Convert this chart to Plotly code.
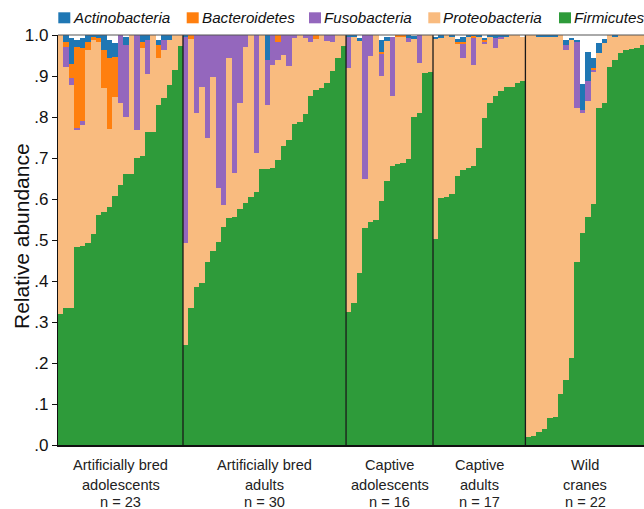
import plotly.graph_objects as go

# ---------------- data ----------------
group_line1 = ["Artificially bred", "Artificially bred", "Captive", "Captive", "Wild"]
group_line2 = ["adolescents", "adults", "adolescents", "adults", "cranes"]
group_sizes = [23, 30, 16, 17, 22]

phyla_bottom_to_top = ["Firmicutes", "Proteobacteria", "Fusobacteria", "Bacteroidetes", "Actinobacteria"]
legend_order = ["Actinobacteria", "Bacteroidetes", "Fusobacteria", "Proteobacteria", "Firmicutes"]

firmicutes = (
    [0.320, 0.335, 0.335, 0.482, 0.485, 0.492, 0.514, 0.560, 0.568, 0.581, 0.608, 0.633,
     0.660, 0.662, 0.701, 0.705, 0.763, 0.764, 0.829, 0.847, 0.878, 0.915, 0.974]
    + [0.244, 0.335, 0.386, 0.394, 0.447, 0.473, 0.496, 0.532, 0.553, 0.557, 0.576, 0.591,
       0.604, 0.618, 0.672, 0.674, 0.675, 0.695, 0.729, 0.744, 0.783, 0.789, 0.807, 0.852,
       0.866, 0.870, 0.882, 0.912, 0.943, 0.974]
    + [0.325, 0.347, 0.419, 0.530, 0.545, 0.549, 0.596, 0.644, 0.681, 0.685, 0.687, 0.698,
       0.801, 0.809, 0.908, 0.910]
    + [0.502, 0.602, 0.604, 0.611, 0.657, 0.671, 0.675, 0.680, 0.724, 0.797, 0.835, 0.851,
       0.863, 0.872, 0.874, 0.882, 0.888]
    + [0.020, 0.023, 0.031, 0.039, 0.067, 0.069, 0.124, 0.159, 0.211, 0.446, 0.516, 0.557,
       0.588, 0.823, 0.833, 0.921, 0.939, 0.955, 0.963, 0.966, 0.968, 0.976]
)
proteobacteria = (
    [0.680, 0.588, 0.543, 0.288, 0.295, 0.471, 0.474, 0.424, 0.302, 0.189, 0.242, 0.200,
     0.141, 0.338, 0.067, 0.263, 0.143, 0.236, 0.114, 0.116, 0.110, 0.085, 0.026]
    + [0.248, 0.655, 0.423, 0.478, 0.301, 0.425, 0.130, 0.053, 0.390, 0.106, 0.257, 0.380,
       0.396, 0.093, 0.328, 0.155, 0.253, 0.244, 0.222, 0.181, 0.209, 0.211, 0.185, 0.132,
       0.124, 0.130, 0.103, 0.070, 0.057, 0.026]
    + [0.594, 0.649, 0.566, 0.120, 0.405, 0.451, 0.304, 0.341, 0.170, 0.311, 0.310, 0.284,
       0.189, 0.122, 0.092, 0.090]
    + [0.488, 0.390, 0.396, 0.386, 0.320, 0.272, 0.321, 0.248, 0.272, 0.183, 0.161, 0.117,
       0.129, 0.124, 0.126, 0.118, 0.108]
    + [0.980, 0.977, 0.966, 0.958, 0.930, 0.927, 0.876, 0.804, 0.777, 0.375, 0.293, 0.282,
       0.321, 0.132, 0.147, 0.079, 0.057, 0.045, 0.037, 0.034, 0.032, 0.024]
)
fusobacteria = (
    [0, 0.048, 0.016, 0.003, 0.010, 0, 0, 0, 0, 0, 0, 0.167,
     0.175, 0, 0.232, 0, 0.082, 0, 0, 0.025, 0, 0, 0]
    + [0.502, 0, 0.190, 0.128, 0.252, 0.102, 0.374, 0.415, 0.057, 0.337, 0.167, 0.029,
       0, 0.289, 0, 0.110, 0.072, 0.043, 0.049, 0.075, 0.008, 0, 0.008, 0.016,
       0, 0, 0.015, 0.018, 0, 0]
    + [0.077, 0, 0, 0.350, 0.050, 0, 0.053, 0, 0.145, 0, 0, 0.010,
       0, 0.069, 0, 0]
    + [0, 0, 0, 0, 0, 0.037, 0, 0.065, 0, 0.004, 0, 0.025,
       0.004, 0, 0, 0, 0]
    + [0, 0, 0, 0, 0, 0, 0, 0.013, 0, 0.163, 0.008, 0.049,
       0.007, 0, 0, 0, 0, 0, 0, 0, 0, 0]
)
bacteroidetes = (
    [0, 0.013, 0.035, 0.198, 0.178, 0.021, 0.008, 0.008, 0.093, 0.173, 0.097, 0,
     0, 0, 0, 0.016, 0, 0, 0.033, 0, 0, 0, 0]
    + [0, 0.010, 0, 0, 0, 0, 0, 0, 0, 0, 0, 0,
       0, 0, 0, 0, 0, 0.018, 0, 0, 0, 0, 0, 0,
       0.010, 0, 0, 0, 0, 0]
    + [0, 0, 0, 0, 0, 0, 0.006, 0, 0, 0.004, 0.003, 0,
       0, 0, 0, 0]
    + [0, 0, 0, 0, 0.005, 0.004, 0, 0.005, 0, 0.004, 0, 0,
       0, 0, 0, 0, 0]
    + [0, 0, 0, 0, 0, 0, 0, 0, 0, 0, 0, 0,
       0.003, 0, 0, 0, 0, 0, 0, 0, 0, 0]
)
actinobacteria = (
    [0, 0.016, 0.063, 0.017, 0.024, 0.016, 0.004, 0.008, 0.037, 0.045, 0.033, 0,
     0.020, 0, 0, 0.016, 0.012, 0, 0.012, 0.012, 0.012, 0, 0]
    + [0.006, 0, 0, 0, 0, 0, 0, 0, 0, 0, 0, 0,
       0, 0, 0, 0.061, 0, 0, 0, 0, 0, 0, 0, 0,
       0, 0, 0, 0, 0, 0]
    + [0.004, 0.004, 0.007, 0, 0, 0, 0.029, 0.011, 0, 0, 0, 0.008,
       0.008, 0, 0, 0]
    + [0.005, 0.008, 0, 0.003, 0.008, 0.012, 0.004, 0.002, 0.004, 0.005, 0.004, 0.007,
       0.004, 0.004, 0, 0, 0]
    + [0, 0, 0.003, 0.003, 0.003, 0.004, 0, 0.012, 0.005, 0.004, 0.063, 0.071,
       0.024, 0.025, 0.010, 0, 0.004, 0, 0, 0, 0, 0]
)

y_tick_vals = [0, 0.1, 0.2, 0.3, 0.4, 0.5, 0.6, 0.7, 0.8, 0.9, 1.0]
y_tick_text = [".0", ".1", ".2", ".3", ".4", ".5", ".6", ".7", ".8", ".9", "1.0"]

# ---------------- style ----------------
colors = {
    "Actinobacteria": "#1f77b4",
    "Bacteroidetes": "#ff7f0e",
    "Fusobacteria": "#9467bd",
    "Proteobacteria": "#f9bb7f",
    "Firmicutes": "#2e9b3a",
}
values = {
    "Firmicutes": firmicutes,
    "Proteobacteria": proteobacteria,
    "Fusobacteria": fusobacteria,
    "Bacteroidetes": bacteroidetes,
    "Actinobacteria": actinobacteria,
}

FONT = "Liberation Sans, Arial, sans-serif"
W_FIG, H_FIG = 644, 509
L, R, T, B = 58, 0, 35, 64
PW, PH = W_FIG - L - R, H_FIG - T - B

def px_x(px):
    return (px - L) / PW

def px_y(py):
    return (H_FIG - B - py) / PH

n_total = sum(group_sizes)
x = list(range(n_total))

fig = go.Figure()
for name in phyla_bottom_to_top:
    fig.add_bar(x=x, y=values[name], name=name, marker_color=colors[name],
                marker_line_width=0, showlegend=False, hoverinfo="skip")

shapes = []
cum = 0
for s in group_sizes[:-1]:
    cum += s
    shapes.append(dict(type="line", xref="x", yref="paper", x0=cum - 0.5, x1=cum - 0.5,
                       y0=0, y1=1, line=dict(color="#1a1a1a", width=1.3)))
shapes.append(dict(type="line", xref="paper", yref="paper", x0=0, x1=1, y0=1, y1=1,
                   line=dict(color="#555555", width=1)))

annotations = []
start = 0
for l1, l2, s in zip(group_line1, group_line2, group_sizes):
    center = start + (s - 1) / 2
    for txt, py in ((l1, 465), (l2, 485), (f"n = {s}", 502)):
        annotations.append(dict(x=center, xref="x", y=px_y(py), yref="paper",
                                text=txt, showarrow=False, borderpad=0,
                                xanchor="center", yanchor="middle",
                                font=dict(size=14.6, color="#222222", family=FONT)))
    start += s

annotations.append(dict(x=px_x(21), xref="paper", y=px_y(236), yref="paper",
                        text="Relative abundance", textangle=-90, showarrow=False,
                        xanchor="center", yanchor="middle",
                        font=dict(size=21, color="#111111", family=FONT)))

legend_sq_x = [58.3, 186.7, 309, 428.3, 559]
for name, sx in zip(legend_order, legend_sq_x):
    shapes.append(dict(type="rect", xref="paper", yref="paper",
                       x0=px_x(sx), x1=px_x(sx + 12), y0=px_y(23.3), y1=px_y(12.3),
                       fillcolor=colors[name], line=dict(width=0)))
    annotations.append(dict(x=px_x(sx + 14), xref="paper", y=px_y(18), yref="paper",
                            text=f"<i>{name}</i>", showarrow=False, borderpad=0,
                            xanchor="left", yanchor="middle",
                            font=dict(size=15.2, color="#111111", family=FONT)))

fig.update_layout(
    width=W_FIG, height=H_FIG,
    margin=dict(l=L, r=R, t=T, b=B),
    barmode="stack", bargap=0,
    plot_bgcolor="white", paper_bgcolor="white",
    font=dict(family=FONT, color="#111111"),
    shapes=shapes, annotations=annotations,
    xaxis=dict(range=[-0.5, n_total - 0.5 - 0.18], showticklabels=False, ticks="",
               showgrid=False, zeroline=False, showline=True, linecolor="#111111",
               linewidth=1.5),
    yaxis=dict(range=[0, 1.0], tickvals=y_tick_vals, ticktext=y_tick_text,
               ticks="outside", ticklen=5, tickcolor="#111111", tickwidth=1,
               tickfont=dict(size=17, color="#111111"),
               showgrid=False, zeroline=False, showline=True, linecolor="#111111",
               linewidth=1.2),
)

fig.write_html("out.html", config={"displayModeBar": False},
               post_script="document.body.style.margin='0';document.body.style.overflow='hidden';")
